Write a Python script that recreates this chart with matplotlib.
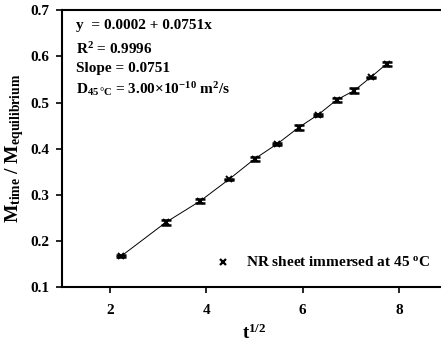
import matplotlib
matplotlib.use("Agg")
import matplotlib.pyplot as plt
import numpy as np

plt.rcParams['font.family'] = ['Liberation Serif', 'DejaVu Serif']
plt.rcParams['font.weight'] = 'bold'
plt.rcParams['mathtext.fontset'] = 'custom'
plt.rcParams['mathtext.rm'] = 'Liberation Serif:weight=bold'
plt.rcParams['mathtext.it'] = 'Liberation Serif:weight=bold'
plt.rcParams['mathtext.bf'] = 'Liberation Serif:weight=bold'
plt.rcParams['mathtext.default'] = 'rm'

# data
t_half = [2.236, 3.162, 3.873, 4.472, 5.000, 5.477, 5.916, 6.325, 6.708, 7.071, 7.416, 7.746]
m_ratio = [0.168, 0.241, 0.287, 0.334, 0.378, 0.411, 0.446, 0.474, 0.506, 0.526, 0.555, 0.584]
m_err = [0.002, 0.005, 0.005, 0.001, 0.005, 0.002, 0.005, 0.002, 0.005, 0.005, 0.001, 0.005]
x_ticks = [2, 4, 6, 8]
y_ticks = [0.1, 0.2, 0.3, 0.4, 0.5, 0.6, 0.7]

fig = plt.figure(figsize=(4.41, 3.45), dpi=100)
ax = fig.add_axes([0.1406, 0.1672, 0.873, 0.803])

ax.plot(t_half, m_ratio, color='black', lw=0.7, zorder=2)
ax.errorbar(t_half, m_ratio, yerr=m_err, fmt='none', ecolor='black',
            elinewidth=2.0, capsize=3.6, capthick=1.8, zorder=3)
ax.plot(t_half, m_ratio, 'x', color='black', ms=5, mew=1.4, zorder=4)

ax.set_xlim(1, 9)
ax.set_ylim(0.1, 0.7)
ax.set_xticks(x_ticks)
ax.set_yticks(y_ticks)
ax.set_xticklabels([str(v) for v in x_ticks])
ax.set_yticklabels([f"{v:.1f}" for v in y_ticks])
ax.tick_params(axis='both', direction='out', length=4, width=1.2, labelsize=11, pad=5)
ax.tick_params(axis='x', pad=8)
for s in ax.spines.values():
    s.set_linewidth(1.5)

ax.set_xlabel(r't$^{\mathregular{1/2}}$', fontsize=13.5, fontweight='bold', labelpad=5)
ax.set_ylabel(r'M$_{\mathregular{time}}$ / M$_{\mathregular{equilibrium}}$', fontsize=14, fontweight='bold', labelpad=3)

fs = 11
x0 = 0.0365
ax.text(x0, 0.945, r'y  = 0.0002 + 0.0751x', transform=ax.transAxes, fontsize=fs, va='center', ha='left')
ax.text(x0, 0.86, r'R$^{\mathregular{2}}$ = 0.9996', transform=ax.transAxes, fontsize=fs, va='center', ha='left')
ax.text(x0, 0.79, r'Slope = 0.0751', transform=ax.transAxes, fontsize=fs, va='center', ha='left')
ax.text(x0, 0.715, r'D$_{\mathregular{45\,°C}}$ = 3.00×10$^{\mathregular{-10}}$ m$^{\mathregular{2}}$/s',
        transform=ax.transAxes, fontsize=fs, va='center', ha='left')

# legend
ax.plot([4.34], [0.155], 'x', color='black', ms=5, mew=1.6)
ax.text(4.83, 0.155, r'NR sheet immersed at 45 $^{\mathregular{o}}$C', fontsize=fs, va='center', ha='left')

fig.savefig('out.png', dpi=100)
